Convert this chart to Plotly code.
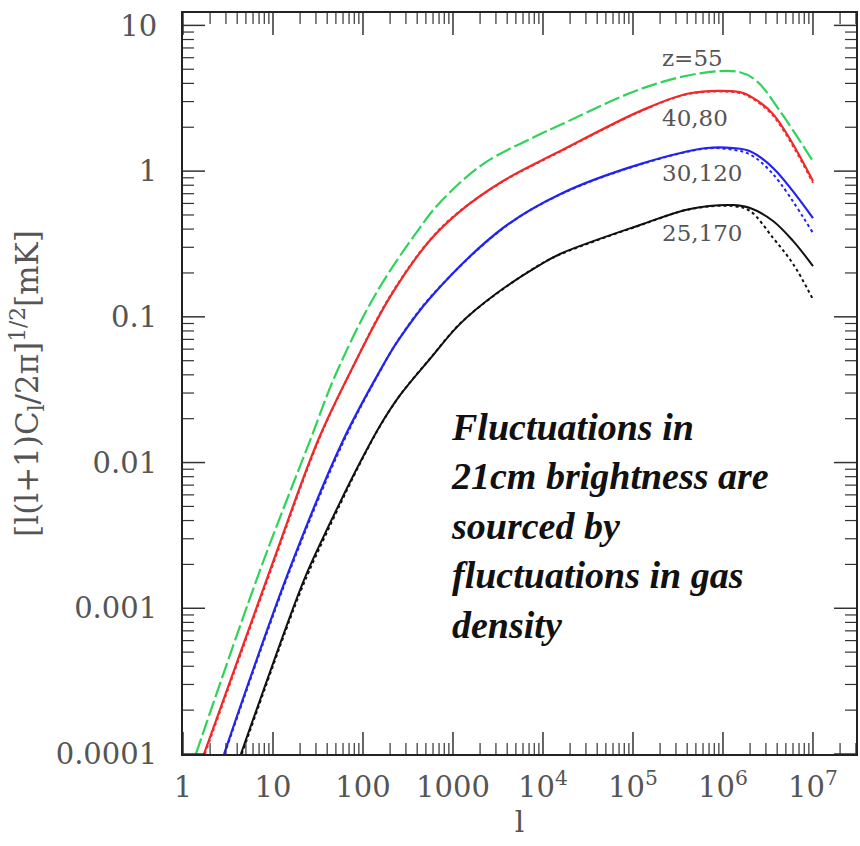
import math
import plotly.graph_objects as go

# ---- data (multipole l, amplitude in mK) ----
green_l = [1.39, 7.17, 25.8, 50.1, 139, 430, 717, 2154, 9260, 15450, 1.2e5, 5.55e5, 1.545e6, 2.39e6, 4.3e6, 1e7]
green_v = [1e-4, 0.00182, 0.01416, 0.0407, 0.144, 0.410, 0.610, 1.117, 1.79, 2.07, 3.65, 4.69, 4.77, 4.13, 2.58, 1.17]

red_l = [1.71, 9.26, 31.6, 71.7, 200, 555, 1197, 3594, 9260, 15450, 1.2e5, 4.3e5, 1.545e6, 2.0e6, 3.6e6, 1e7]
red_v = [1e-4, 0.00182, 0.01416, 0.0413, 0.137, 0.335, 0.530, 0.855, 1.17, 1.37, 2.58, 3.42, 3.48, 3.27, 2.46, 0.855]
red_dot_l = [1.75, 9.4, 32, 72, 200, 560, 1200, 3600, 9300, 15500, 1.2e5, 4.3e5, 1.5e6, 2.0e6, 3.6e6, 1e7]
red_dot_v = [1e-4, 0.00180, 0.0141, 0.0415, 0.139, 0.340, 0.534, 0.850, 1.16, 1.36, 2.56, 3.40, 3.45, 3.22, 2.40, 0.83]

blue_l = [2.86, 15.1, 60, 154.5, 245, 570, 3594, 15450, 1.2e5, 6.64e5, 1.29e6, 2.0e6, 3.6e6, 1e7]
blue_v = [1e-4, 0.00182, 0.01416, 0.0427, 0.0686, 0.137, 0.407, 0.695, 1.117, 1.44, 1.44, 1.37, 1.05, 0.476]
blue_dot_l = [2.9, 15.3, 61, 155, 245, 570, 3600, 15450, 1.2e5, 6.64e5, 1.29e6, 2.0e6, 3.6e6, 1e7]
blue_dot_v = [1e-4, 0.00180, 0.0140, 0.0425, 0.0690, 0.138, 0.405, 0.690, 1.11, 1.43, 1.40, 1.30, 0.953, 0.376]

black_l = [4.4, 16.7, 24.5, 55.5, 92.6, 154.5, 258, 555, 1197, 3005, 9260, 15450, 1.2e5, 4.3e5, 1.29e6, 2.0e6, 3.6e6, 6.0e6, 1e7]
black_v = [1e-4, 0.001, 0.00182, 0.00532, 0.01, 0.0179, 0.0290, 0.0515, 0.0895, 0.144, 0.227, 0.270, 0.427, 0.550, 0.585, 0.558, 0.455, 0.332, 0.223]
black_dot_l = [4.5, 17, 25, 56, 93, 155, 260, 560, 1200, 3000, 9300, 15450, 1.2e5, 4.3e5, 1.29e6, 2.0e6, 3.6e6, 6.0e6, 9.8e6]
black_dot_v = [1e-4, 0.00099, 0.00178, 0.0052, 0.0099, 0.0178, 0.0292, 0.0520, 0.0900, 0.143, 0.229, 0.268, 0.425, 0.548, 0.575, 0.532, 0.348, 0.231, 0.135]

curve_labels = ["z=55", "40,80", "30,120", "25,170"]
label_l = [2.0e5, 2.0e5, 2.0e5, 2.0e5]
label_v = [5.95, 2.31, 0.97, 0.376]

x_tickvals = [1, 10, 100, 1000, 1e4, 1e5, 1e6, 1e7]
x_ticktext = ["1", "10", "100", "1000", "10<sup>4</sup>", "10<sup>5</sup>", "10<sup>6</sup>", "10<sup>7</sup>"]
y_tickvals = [1e-4, 1e-3, 1e-2, 0.1, 1, 10]
y_ticktext = ["0.0001", "0.001", "0.01", "0.1", "1", "10"]
x_minor_vals = [m * 10 ** k for k in range(0, 8) for m in range(2, 10)]
y_minor_vals = [m * 10 ** k for k in range(-4, 2) for m in range(2, 10)]

note_text = ("<b><i>Fluctuations in<br>21cm brightness are<br>sourced by<br>"
             "fluctuations in gas<br>density</i></b>")

GREEN = "#2fd35a"
RED = "#f02828"
BLUE = "#2323f0"
BLACK = "#111111"
SERIF = "DejaVu Serif"
TICK = "#333333"

XR = [0, 7.478]
YR = [-4, 1.085]
W, H = 860, 846
ML, MR, MT, MB = 183, 4, 13, 92
PW, PH = W - ML - MR, H - MT - MB
MAJ, MIN = 22, 11

fig = go.Figure()
fig.add_trace(go.Scatter(x=red_dot_l, y=red_dot_v, mode="lines", line=dict(color=RED, width=2, dash="dot", shape="spline")))
fig.add_trace(go.Scatter(x=red_l, y=red_v, mode="lines", line=dict(color=RED, width=2.2, shape="spline")))
fig.add_trace(go.Scatter(x=green_l, y=green_v, mode="lines", line=dict(color=GREEN, width=2.2, dash="16px,4px", shape="spline")))
fig.add_trace(go.Scatter(x=blue_dot_l, y=blue_dot_v, mode="lines", line=dict(color=BLUE, width=2, dash="dot", shape="spline")))
fig.add_trace(go.Scatter(x=blue_l, y=blue_v, mode="lines", line=dict(color=BLUE, width=2.2, shape="spline")))
fig.add_trace(go.Scatter(x=black_dot_l, y=black_dot_v, mode="lines", line=dict(color=BLACK, width=2, dash="dot", shape="spline")))
fig.add_trace(go.Scatter(x=black_l, y=black_v, mode="lines", line=dict(color=BLACK, width=2, shape="spline")))

for txt, lx, ly in zip(curve_labels, label_l, label_v):
    fig.add_annotation(x=math.log10(lx), y=math.log10(ly), text=txt,
                       showarrow=False, xanchor="left", yanchor="middle",
                       font=dict(family=SERIF, size=23, color="#555555"))

fig.add_annotation(x=0.395, y=0.472, xref="paper", yref="paper", text=note_text, showarrow=False,
                   xanchor="left", yanchor="top", align="left",
                   font=dict(family="Liberation Serif", size=38, color="#111111"))

# tick marks on all four sides of the frame (positions from the tick value lists, through the axis scale;
# shapes on log axes take raw data values)
def in_range(v, rng):
    return rng[0] <= math.log10(v) <= rng[1]

for vals, ln, wd in ((x_tickvals, MAJ, 1.5), (x_minor_vals, MIN, 1.2)):
    for v in vals:
        if not in_range(v, XR):
            continue
        for y0, y1 in ((0, ln / PH), (1, 1 - ln / PH)):
            fig.add_shape(type="line", xref="x", yref="y domain", x0=v, x1=v, y0=y0, y1=y1,
                          line=dict(color=TICK, width=wd), layer="above")

for vals, ln, wd in ((y_tickvals, MAJ, 1.5), (y_minor_vals, MIN, 1.2)):
    for v in vals:
        if not in_range(v, YR):
            continue
        for x0, x1 in ((0, ln / PW), (1, 1 - ln / PW)):
            fig.add_shape(type="line", xref="x domain", yref="y", x0=x0, x1=x1, y0=v, y1=v,
                          line=dict(color=TICK, width=wd), layer="above")

fig.update_layout(
    xaxis=dict(type="log", range=XR, showline=True, linecolor="#222222", linewidth=2, mirror=True,
               ticks="", showgrid=False, zeroline=False,
               tickmode="array", tickvals=x_tickvals, ticktext=x_ticktext,
               tickfont=dict(family=SERIF, size=29, color="#555555"), ticklabelstandoff=6,
               title=dict(text="l", font=dict(family=SERIF, size=30, color="#555555"), standoff=8)),
    yaxis=dict(type="log", range=YR, showline=True, linecolor="#222222", linewidth=2, mirror=True,
               ticks="", showgrid=False, zeroline=False,
               tickmode="array", tickvals=y_tickvals, ticktext=y_ticktext,
               tickfont=dict(family=SERIF, size=29, color="#555555"), ticklabelstandoff=18,
               title=dict(text="[l(l+1)C<sub>l</sub>/2π]<sup>1/2</sup>[mK]",
                          font=dict(family=SERIF, size=31, color="#555555"), standoff=8)),
    width=W, height=H, showlegend=False,
    margin=dict(l=ML, r=MR, t=MT, b=MB, autoexpand=False),
    paper_bgcolor="white", plot_bgcolor="white",
)

fig.write_html("out.html")
